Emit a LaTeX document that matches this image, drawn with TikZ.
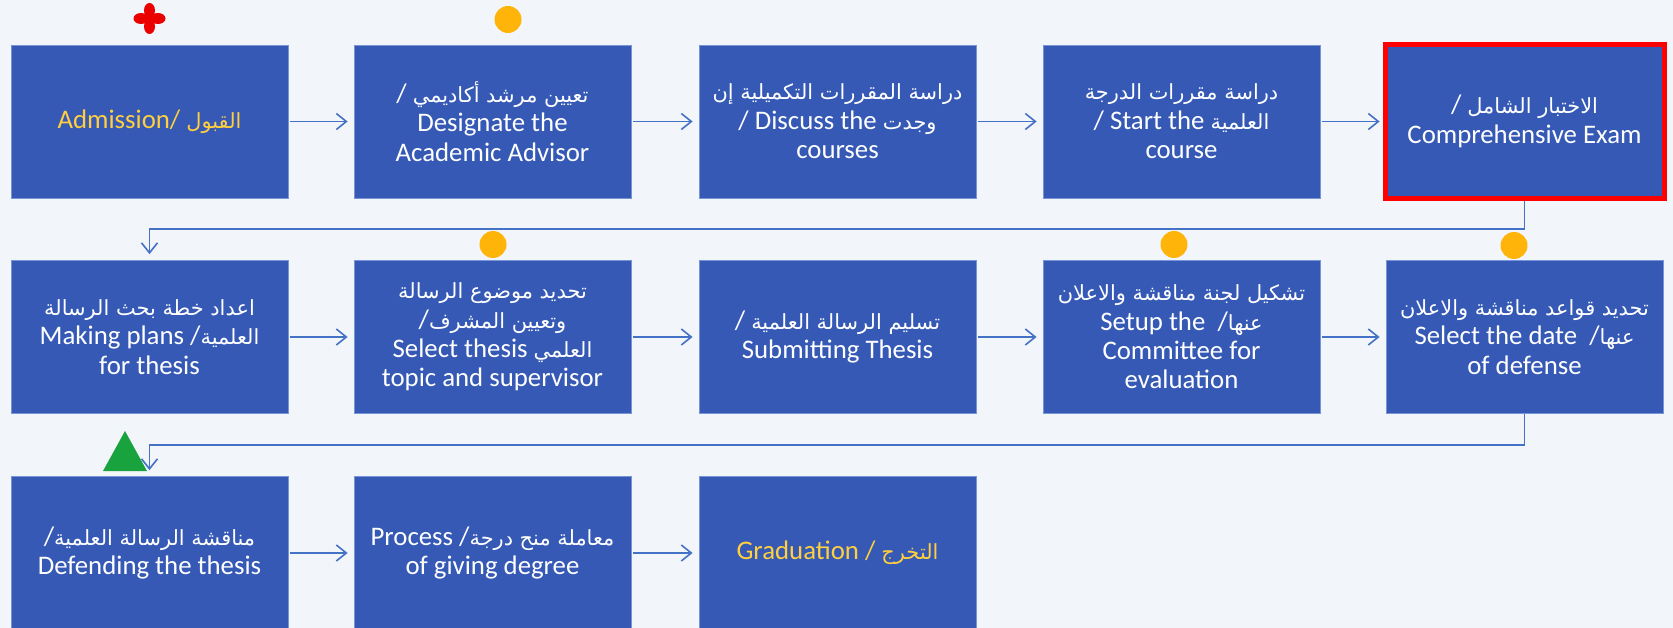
\documentclass[tikz,border=0pt]{standalone}
\usepackage{fontspec}
\usetikzlibrary{arrows.meta}
\setmainfont{Carlito}
\newfontfamily\arabicfont[Script=Arabic,Scale=0.78]{DejaVu Sans}
\TeXXeTstate=1
\newcommand{\arb}[1]{{\arabicfont\beginR #1\endR}}
\definecolor{bg}{RGB}{242,245,250}
\definecolor{boxblue}{RGB}{53,89,181}
\definecolor{boxedge}{RGB}{120,150,215}
\definecolor{linkblue}{RGB}{68,114,196}
\definecolor{gold}{RGB}{255,207,64}
\definecolor{dotorange}{RGB}{255,180,10}
\definecolor{flowerred}{RGB}{235,0,0}
\definecolor{trigreen}{RGB}{24,163,62}
\definecolor{examred}{RGB}{255,0,0}
\begin{document}
\begin{tikzpicture}[x=1pt,y=-1pt,
  stepbox/.style={fill=boxblue, draw=boxedge, line width=0.8pt, minimum width=277pt, minimum height=153pt, inner sep=0pt, align=center, text=white, font=\fontsize{26.8}{29.4}\selectfont},
  link/.style={draw=linkblue, line width=1.8pt, -{Straight Barb[length=10pt,width=16pt,line width=1.6pt]}, shorten <=2pt, shorten >=6pt},
  dotmark/.style={circle, fill=dotorange, minimum size=27pt, inner sep=0pt},
]
\fill[bg] (0,0) rectangle (1673,628);
\useasboundingbox (0,0) rectangle (1673,628);

% row 1
\node[stepbox] (r1a) at (149.5,121.5) {\textcolor{gold}{Admission/ \arb{القبول}}};
\node[stepbox] (r1b) at (492.5,121.5) {/ \arb{تعيين مرشد أكاديمي}\\Designate the\\Academic Advisor};
\node[stepbox] (r1c) at (837.5,121.5) {\arb{دراسة المقررات التكميلية إن}\\/ Discuss the \arb{وجدت}\\courses};
\node[stepbox] (r1d) at (1181.5,121.5) {\arb{دراسة مقررات الدرجة}\\/ Start the \arb{العلمية}\\course};
\node[stepbox] (r1e) at (1524.5,121.5) {/ \arb{الاختبار الشامل}\\Comprehensive Exam};

% row 2
\node[stepbox] (r2a) at (149.5,337) {\arb{اعداد خطة بحث الرسالة}\\Making plans /\arb{العلمية}\\for thesis};
\node[stepbox] (r2b) at (492.5,337) {\arb{تحديد موضوع الرسالة}\\/\arb{وتعيين المشرف}\\Select thesis \arb{العلمي}\\topic and supervisor};
\node[stepbox] (r2c) at (837.5,337) {/ \arb{تسليم الرسالة العلمية}\\Submitting Thesis};
\node[stepbox] (r2d) at (1181.5,337) {\arb{تشكيل لجنة مناقشة والاعلان}\\Setup the\ \ /\arb{عنها}\\Committee for\\evaluation};
\node[stepbox] (r2e) at (1524.5,337) {\arb{تحديد قواعد مناقشة والاعلان}\\Select the date\ \ /\arb{عنها}\\of defense};

% row 3
\node[stepbox] (r3a) at (149.5,553) {/\arb{مناقشة الرسالة العلمية}\\Defending the thesis};
\node[stepbox] (r3b) at (492.5,553) {Process /\arb{معاملة منح درجة}\\of giving degree};
\node[stepbox] (r3c) at (837.5,553) {\textcolor{gold}{Graduation / \arb{التخرج}}};

% connectors
\draw[link] (r1a) -- (r1b);
\draw[link] (r1b) -- (r1c);
\draw[link] (r1c) -- (r1d);
\draw[link] (r1d) -- (r1e);
\draw[link] (r2a) -- (r2b);
\draw[link] (r2b) -- (r2c);
\draw[link] (r2c) -- (r2d);
\draw[link] (r2d) -- (r2e);
\draw[link] (r3a) -- (r3b);
\draw[link] (r3b) -- (r3c);
\coordinate (k1) at (1524.5,229);
\coordinate (k2) at (1524.5,445);
\draw[link, shorten <=0pt] (r1e.south) -- (k1) -| (r2a.north);
\draw[link, shorten <=0pt] (r2e.south) -- (k2) -| (r3a.north);

% highlighted exam box
\draw[examred, line width=5pt] (1385.5,44.5) rectangle (1664.5,198.5);

% markers
\fill[flowerred] (149.5,10.5) ellipse [x radius=5.5pt, y radius=7.5pt];
\fill[flowerred] (149.5,26.5) ellipse [x radius=5.5pt, y radius=7.5pt];
\fill[flowerred] (141,18.5) ellipse [x radius=7.5pt, y radius=5.5pt];
\fill[flowerred] (158,18.5) ellipse [x radius=7.5pt, y radius=5.5pt];
\fill[flowerred] (149.5,18.5) circle [radius=3pt];
\node[dotmark] (d1) at (508,19.5) {};
\node[dotmark] (d2) at (493,244.5) {};
\node[dotmark] (d3) at (1174,244.5) {};
\node[dotmark] (d4) at (1514,245.5) {};
\fill[trigreen] (125,431) -- (147,471) -- (103,471) -- cycle;
\end{tikzpicture}
\end{document}
